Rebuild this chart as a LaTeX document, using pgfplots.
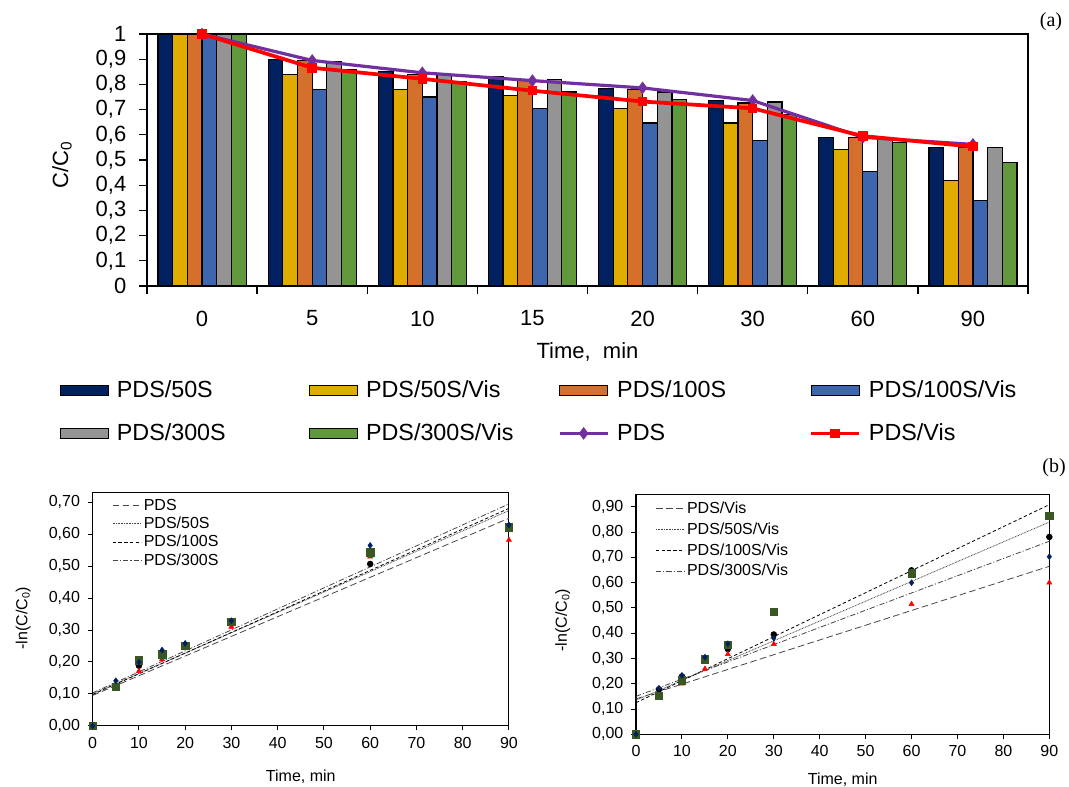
\documentclass[border=0pt]{standalone}
\usepackage{pgfplots}
\pgfplotsset{compat=1.18}
\usepackage{fontspec}
\setmainfont{Liberation Sans}
\newfontfamily\timesfont{Liberation Serif}

\definecolor{cNavy}{RGB}{0,32,96}
\definecolor{cYellow}{RGB}{224,172,0}
\definecolor{cOrange}{RGB}{212,112,44}
\definecolor{cBlue}{RGB}{61,102,174}
\definecolor{cGray}{RGB}{148,148,148}
\definecolor{cGreen}{RGB}{98,152,60}
\definecolor{cPurple}{RGB}{112,48,160}
\definecolor{cDkGreen}{RGB}{56,87,35}
\definecolor{cLine}{RGB}{70,70,70}

\pgfplotsset{
  barlegend/.style={legend image code/.code={\draw[##1] (0pt,-3.75pt) rectangle (36pt,3.75pt);}},
  toplinelegend/.style={legend image code/.code={\draw[mark repeat=2,mark phase=2,##1] plot coordinates {(0pt,0pt) (18pt,0pt) (36pt,0pt)};}},
  botlinelegend/.style={legend image code/.code={\draw[##1] (0pt,0pt) -- (21.5pt,0pt);}},
  smallaxis/.style={
    scale only axis,
    xmin=0, xmax=90, ymin=0,
    xtick={0,10,20,30,40,50,60,70,80,90},
    tick align=outside, xtick pos=bottom, ytick pos=left,
    major tick length=3.5pt,
    axis line style={line width=0.8pt},
    major tick style={line width=0.7pt, black},
    /pgf/number format/assume math mode=true,
    tick label style={font=\fontsize{12}{14}\selectfont},
    yticklabel style={xshift=-2.5pt, /pgf/number format/.cd, fixed, fixed zerofill, precision=2, use comma},
    xticklabel style={yshift=-1.5pt},
    label style={font=\fontsize{12}{14}\selectfont},
    legend style={draw=none, fill=none, anchor=north west,
      font=\fontsize{12}{14}\selectfont, nodes={inner sep=1.5pt}},
    legend cell align=left,
  },
}

\begin{document}
\begin{tikzpicture}
\path[use as bounding box] (0pt,0pt) rectangle (801.75pt,-590.25pt);

% (a) bar chart with the two lines
\begin{axis}[
  at={(110.25pt,-214.5pt)}, anchor=south west,
  scale only axis, width=660.75pt, height=189pt,
  xmin=-0.5, xmax=7.5, ymin=0, ymax=1,
  xtick={-0.5,0.5,1.5,2.5,3.5,4.5,5.5,6.5,7.5},
  xticklabels={0,5,10,15,20,30,60,90},
  x tick label as interval,
  ytick={0,0.1,0.2,0.3,0.4,0.5,0.6,0.7,0.8,0.9,1},
  tick align=outside, xtick pos=bottom, ytick pos=left,
  major tick length=6pt,
  axis line style={line width=1pt},
  major tick style={line width=1pt, black},
  /pgf/number format/use comma,
  /pgf/number format/assume math mode=true,
  tick label style={font=\fontsize{16.5}{19}\selectfont},
  xticklabel style={yshift=-9pt},
  yticklabel style={xshift=-6pt},
  label style={font=\fontsize{16.5}{19}\selectfont},
  xlabel={Time,\ \ min},
  xlabel style={at={(axis description cs:0.5,-0.262)}, anchor=center},
  ylabel={C/C\textsubscript{0}},
  ylabel style={at={(axis description cs:-0.0965,0.48)}, anchor=center},
  legend columns=4,
  legend cell align=left,
  legend style={draw=none, fill=none, at={(-0.104,-0.355)}, anchor=north west,
    font=\fontsize{17.5}{20}\selectfont, column sep=0pt, row sep=14pt},
]
\addplot[ybar, bar width=0.1333, bar shift=-0.3333, fill=cNavy, draw=black, line width=0.9pt, barlegend]
  coordinates {(0,1) (1,0.900) (2,0.850) (3,0.830) (4,0.785) (5,0.735) (6,0.590) (7,0.550)};
\addlegendentry{\makebox[146pt][l]{\hspace{4pt}PDS/50S}}
\addplot[ybar, bar width=0.1333, bar shift=-0.2, fill=cYellow, draw=black, line width=0.9pt, barlegend]
  coordinates {(0,1) (1,0.840) (2,0.780) (3,0.755) (4,0.705) (5,0.647) (6,0.542) (7,0.420)};
\addlegendentry{\makebox[146pt][l]{\hspace{4pt}PDS/50S/Vis}}
\addplot[ybar, bar width=0.1333, bar shift=-0.0667, fill=cOrange, draw=black, line width=0.9pt, barlegend]
  coordinates {(0,1) (1,0.895) (2,0.840) (3,0.820) (4,0.780) (5,0.726) (6,0.590) (7,0.550)};
\addlegendentry{\makebox[146pt][l]{\hspace{4pt}PDS/100S}}
\addplot[ybar, bar width=0.1333, bar shift=0.0667, fill=cBlue, draw=black, line width=0.9pt, barlegend]
  coordinates {(0,1) (1,0.780) (2,0.750) (3,0.705) (4,0.647) (5,0.577) (6,0.454) (7,0.340)};
\addlegendentry{\makebox[146pt][l]{\hspace{4pt}PDS/100S/Vis}}
\addplot[ybar, bar width=0.1333, bar shift=0.2, fill=cGray, draw=black, line width=0.9pt, barlegend]
  coordinates {(0,1) (1,0.890) (2,0.840) (3,0.820) (4,0.770) (5,0.730) (6,0.583) (7,0.550)};
\addlegendentry{\makebox[146pt][l]{\hspace{4pt}PDS/300S}}
\addplot[ybar, bar width=0.1333, bar shift=0.3333, fill=cGreen, draw=black, line width=0.9pt, barlegend]
  coordinates {(0,1) (1,0.860) (2,0.810) (3,0.770) (4,0.740) (5,0.680) (6,0.570) (7,0.490)};
\addlegendentry{\makebox[146pt][l]{\hspace{4pt}PDS/300S/Vis}}
\addplot[sharp plot, color=cPurple, line width=2.4pt, mark=diamond*, mark size=2.8pt, toplinelegend]
  coordinates {(0,1) (1,0.895) (2,0.846) (3,0.815) (4,0.786) (5,0.736) (6,0.590) (7,0.562)};
\addlegendentry{\makebox[146pt][l]{\hspace{4pt}PDS}}
\addplot[sharp plot, color=red, line width=2.8pt, mark=square*, mark size=2.2pt, toplinelegend]
  coordinates {(0,1) (1,0.866) (2,0.822) (3,0.775) (4,0.732) (5,0.705) (6,0.595) (7,0.553)};
\addlegendentry{\makebox[146pt][l]{\hspace{4pt}PDS/Vis}}
\end{axis}

% (b) left: PDS, PDS/50S, PDS/100S, PDS/300S
\begin{axis}[
  smallaxis,
  at={(69.5pt,-544.3pt)}, anchor=south west,
  width=312.2pt, height=174.75pt,
  ymax=0.73,
  ytick={0,0.1,0.2,0.3,0.4,0.5,0.6,0.7},
  xlabel={Time, min},
  xlabel style={at={(axis description cs:0.5,-0.219)}, anchor=center},
  ylabel={-ln(C/C\textsubscript{0})},
  ylabel style={at={(axis description cs:-0.167,0.462)}, anchor=center},
  legend style={at={(0.037,0.994)}, row sep=0.5pt},
]
\addplot[no markers, color=cLine, line width=0.6pt, dash pattern=on 5pt off 2.5pt, botlinelegend]
  coordinates {(0,0.095) (90,0.650)};
\addlegendentry{PDS}
\addplot[no markers, color=cLine, line width=0.6pt, dash pattern=on 0.6pt off 0.6pt, botlinelegend]
  coordinates {(0,0.100) (90,0.674)};
\addlegendentry{PDS/50S}
\addplot[no markers, color=black, line width=0.6pt, dash pattern=on 2.5pt off 1.8pt, botlinelegend]
  coordinates {(0,0.098) (90,0.681)};
\addlegendentry{PDS/100S}
\addplot[no markers, color=cLine, line width=0.6pt, dash pattern=on 4pt off 1.5pt on 0.8pt off 1.5pt, botlinelegend]
  coordinates {(0,0.103) (90,0.695)};
\addlegendentry{PDS/300S}
\addplot[only marks, mark=*, mark size=2.2pt, color=black, forget plot]
  coordinates {(0,0) (5,0.120) (10,0.188) (15,0.216) (20,0.248) (30,0.323) (60,0.507) (90,0.620)};
\addplot[only marks, mark=triangle*, mark size=2.2pt, color=red, forget plot]
  coordinates {(0,0) (5,0.115) (10,0.171) (15,0.208) (20,0.245) (30,0.310) (60,0.530) (90,0.582)};
\addplot[only marks, mark=square*, mark size=2.8pt, color=cDkGreen, forget plot]
  coordinates {(0,0) (5,0.122) (10,0.205) (15,0.224) (20,0.250) (30,0.326) (60,0.543) (90,0.622)};
\addplot[only marks, mark=diamond*, mark size=2.2pt, color=cNavy, forget plot]
  coordinates {(0,0) (5,0.141) (10,0.199) (15,0.237) (20,0.258) (30,0.329) (60,0.565) (90,0.629)};
\end{axis}

% (b) right: the same under visible light
\begin{axis}[
  smallaxis,
  at={(477pt,-550.7pt)}, anchor=south west,
  width=310pt, height=180pt,
  ymax=0.95,
  ytick={0,0.1,0.2,0.3,0.4,0.5,0.6,0.7,0.8,0.9},
  xlabel={Time, min},
  xlabel style={at={(axis description cs:0.5,-0.19)}, anchor=center},
  ylabel={-ln(C/C\textsubscript{0})},
  ylabel style={at={(axis description cs:-0.177,0.476)}, anchor=center},
  legend style={at={(0.037,0.99)}, row sep=2.5pt},
]
\addplot[no markers, color=cLine, line width=0.6pt, dash pattern=on 5pt off 2.5pt, botlinelegend]
  coordinates {(0,0.140) (90,0.665)};
\addlegendentry{PDS/Vis}
\addplot[no markers, color=cLine, line width=0.6pt, dash pattern=on 0.6pt off 0.6pt, botlinelegend]
  coordinates {(0,0.135) (90,0.840)};
\addlegendentry{PDS/50S/Vis}
\addplot[no markers, color=black, line width=0.6pt, dash pattern=on 2.5pt off 1.8pt, botlinelegend]
  coordinates {(0,0.125) (90,0.909)};
\addlegendentry{PDS/100S/Vis}
\addplot[no markers, color=cLine, line width=0.6pt, dash pattern=on 4pt off 1.5pt on 0.8pt off 1.5pt, botlinelegend]
  coordinates {(0,0.150) (90,0.764)};
\addlegendentry{PDS/300S/Vis}
\addplot[only marks, mark=*, mark size=2.2pt, color=black, forget plot]
  coordinates {(0,0) (5,0.178) (10,0.229) (15,0.300) (20,0.337) (30,0.395) (60,0.649) (90,0.781)};
\addplot[only marks, mark=triangle*, mark size=2.2pt, color=red, forget plot]
  coordinates {(0,0) (5,0.147) (10,0.200) (15,0.259) (20,0.317) (30,0.357) (60,0.515) (90,0.600)};
\addplot[only marks, mark=square*, mark size=2.8pt, color=cDkGreen, forget plot]
  coordinates {(0,0) (5,0.153) (10,0.214) (15,0.297) (20,0.354) (30,0.484) (60,0.637) (90,0.864)};
\addplot[only marks, mark=diamond*, mark size=2.2pt, color=cNavy, forget plot]
  coordinates {(0,0) (5,0.182) (10,0.233) (15,0.305) (20,0.358) (30,0.381) (60,0.600) (90,0.703)};
\end{axis}

\node[font=\timesfont\fontsize{15}{18}\selectfont] at (788.25pt,-16.5pt) {(a)};
\node[font=\timesfont\fontsize{15}{18}\selectfont] at (790.5pt,-351pt) {(b)};
\end{tikzpicture}
\end{document}
